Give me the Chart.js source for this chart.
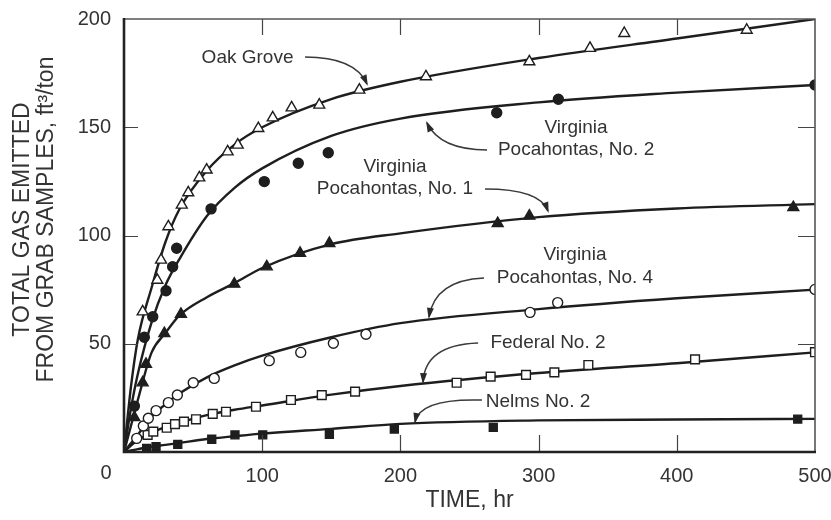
<!DOCTYPE html>
<html>
<head>
<meta charset="utf-8">
<script src="https://cdn.jsdelivr.net/npm/chart.js@4/dist/chart.umd.min.js"></script>
<style>
  html, body { margin: 0; padding: 0; background: #fff; }
</style>
</head>
<body>
<canvas id="chart" width="831" height="520"></canvas>
<script>
// measured samples (time in hr, gas in ft3/ton)
const oakTime  = [13.5, 24.1, 26.8, 32.1, 41.8, 46.5, 54.5, 59.8, 75.0, 82.3, 97.2, 107.6, 121.3, 141.3, 170.3, 218.5, 293.3, 337.2, 362.0, 450.6];
const oakGas   = [64.8, 79.4, 88.7, 104.1, 114.1, 119.8, 126.7, 130.3, 138.7, 141.8, 149.5, 154.4, 159.0, 160.3, 167.2, 173.4, 180.3, 186.5, 193.4, 194.9];
const vp2Time  = [7.5, 14.7, 20.8, 30.4, 35.2, 38.1, 63.0, 101.5, 126.1, 147.8, 269.7, 314.3, 500];
const vp2Gas   = [21.2, 53.0, 62.5, 74.5, 85.6, 94.1, 112.3, 124.9, 133.4, 138.2, 156.7, 162.9, 169.5];
const vp1Time  = [7.5, 13.5, 15.9, 29.2, 41.2, 79.8, 103.3, 127.4, 148.6, 270.4, 293.3, 484.3];
const vp1Gas   = [16.0, 32.0, 40.6, 54.8, 63.7, 77.6, 85.6, 91.8, 96.4, 105.6, 109.0, 113.0];
const vp4Time  = [9.2, 14.0, 17.6, 23.2, 32.1, 38.6, 50.1, 65.3, 105.1, 127.9, 151.5, 175.1, 293.8, 313.8, 500];
const vp4Gas   = [6.3, 12.0, 15.6, 19.1, 22.8, 26.3, 32.0, 34.0, 42.2, 46.0, 50.2, 54.4, 64.5, 69.0, 75.1];
const fedTime  = [17.1, 21.2, 30.9, 36.9, 43.4, 52.1, 64.2, 73.8, 95.5, 120.8, 143.1, 167.2, 240.7, 265.3, 290.9, 311.4, 336.0, 413.2, 500];
const fedGas   = [7.9, 9.4, 11.2, 12.9, 14.0, 15.1, 17.6, 18.6, 20.9, 24.0, 26.3, 27.9, 32.0, 34.8, 35.6, 36.8, 40.2, 42.8, 46.1];
const nelTime  = [16.4, 23.2, 38.9, 63.5, 80.3, 100.4, 148.6, 195.6, 267.2, 487.5];
const nelGas   = [1.7, 2.5, 3.5, 5.9, 7.9, 7.9, 8.2, 10.6, 11.4, 15.2];

// fitted curves
const curveTime = [0, 5, 10, 20, 30, 40, 60, 80, 100, 150, 200, 300, 400, 500];
const oakCurve  = [0, 30, 52, 76, 97, 112, 130, 142, 150, 163, 171, 182, 191, 200];
const vp2Curve  = [0, 20, 36, 60, 77, 89, 109, 122, 131, 146, 154, 161.5, 166, 169.5];
const vp1Curve  = [0, 12, 24, 46, 55, 63, 71.5, 78, 85, 96, 101, 108.5, 112.5, 114.5];
const vp4Curve  = [0, 4, 8, 16.5, 22, 27, 34.5, 40, 44.5, 53, 59.5, 66, 71, 75];
const fedCurve  = [0, 3, 5.5, 9, 11.5, 13.5, 17, 19.5, 21.5, 26.5, 30.5, 36.5, 41, 46];
const nelCurve  = [0, 0.7, 1.3, 2.5, 3.3, 4.2, 6, 7.3, 8.5, 10.7, 13, 14.6, 15, 15.3];

const xTicks = [0, 100, 200, 300, 400, 500];
const yTicks = [0, 50, 100, 150, 200];

const INK = '#1e1e1e';
const TEXT = '#333';
const FONT = "'Liberation Sans', Arial, sans-serif";

const pts = (xs, ys) => xs.map((v, i) => ({ x: v, y: ys[i] }));

function curve(ys) {
    return {
        data: pts(curveTime, ys),
        showLine: true,
        borderColor: INK,
        borderWidth: 2.4,
        pointRadius: 0,
        cubicInterpolationMode: 'monotone',
        order: 2
    };
}

function marks(xs, ys, style, filled, radius) {
    return {
        data: pts(xs, ys),
        showLine: false,
        pointStyle: style,
        pointRadius: radius,
        pointBorderWidth: 1.4,
        pointBorderColor: INK,
        pointBackgroundColor: filled ? INK : '#fff',
        order: 1
    };
}

// label text and arrows, placed in data units
const notes = [
    { lines: ['Oak Grove'], at: [89.4, 182.0], arrow: [[131.0, 182.4], [167.1, 182.4], [175.8, 170.0]] },
    { lines: ['Virginia', 'Pocahontas, No. 2'], at: [327.1, 149.7], gap: 10.2, arrow: [[262.7, 139.5], [228.7, 139.5], [219.2, 152.0]] },
    { lines: ['Virginia', 'Pocahontas, No. 1'], at: [196.1, 131.6], gap: 10.1, arrow: [[261.2, 121.5], [301.0, 121.5], [306.8, 111.3]] },
    { lines: ['Virginia', 'Pocahontas, No. 4'], at: [326.3, 91.0], gap: 10.6, arrow: [[260.5, 80.4], [225.0, 79.4], [220.7, 62.4]] },
    { lines: ['Federal No. 2'], at: [306.8, 50.3], arrow: [[256.2, 50.3], [217.8, 49.4], [216.4, 32.3]] },
    { lines: ['Nelms No. 2'], at: [299.6, 23.1], arrow: [[259.0, 24.0], [214.2, 24.9], [210.6, 13.9]] }
];

const decor = {
    id: 'decor',
    afterDatasetsDraw(chart) {
        const { ctx, chartArea: a, scales: { x, y } } = chart;
        ctx.save();

        // inward tick marks on all four sides
        ctx.strokeStyle = '#444';
        ctx.lineWidth = 1.2;
        ctx.beginPath();
        xTicks.slice(1, -1).forEach(v => {
            const px = Math.round(x.getPixelForValue(v)) + 0.5;
            ctx.moveTo(px, a.top); ctx.lineTo(px, a.top + 16);
            ctx.moveTo(px, a.bottom); ctx.lineTo(px, a.bottom - 17);
        });
        yTicks.slice(1, -1).forEach(v => {
            const py = Math.round(y.getPixelForValue(v)) + 0.5;
            ctx.moveTo(a.left, py); ctx.lineTo(a.left + 14, py);
            ctx.moveTo(a.right, py); ctx.lineTo(a.right - 17, py);
        });
        ctx.stroke();

        // frame
        ctx.strokeStyle = '#555';
        ctx.lineWidth = 1.6;
        ctx.beginPath();
        ctx.moveTo(a.left, a.top); ctx.lineTo(a.right, a.top); ctx.lineTo(a.right, a.bottom);
        ctx.stroke();
        ctx.strokeStyle = '#222';
        ctx.lineWidth = 2.6;
        ctx.beginPath();
        ctx.moveTo(a.left, a.top - 1); ctx.lineTo(a.left, a.bottom); ctx.lineTo(a.right + 1, a.bottom);
        ctx.stroke();

        // notes with curved arrows
        ctx.fillStyle = TEXT;
        ctx.font = '19px ' + FONT;
        ctx.textAlign = 'center';
        ctx.textBaseline = 'middle';
        notes.forEach(n => {
            const cx = x.getPixelForValue(n.at[0]);
            const cy = y.getPixelForValue(n.at[1]);
            const step = n.gap ? y.getPixelForValue(n.at[1] - n.gap) - cy : 0;
            n.lines.forEach((t, i) => ctx.fillText(t, cx, cy + i * step));

            const p = n.arrow.map(q => [x.getPixelForValue(q[0]), y.getPixelForValue(q[1])]);
            ctx.strokeStyle = '#3a3a3a';
            ctx.lineWidth = 1.5;
            ctx.beginPath();
            ctx.moveTo(p[0][0], p[0][1]);
            ctx.quadraticCurveTo(p[1][0], p[1][1], p[2][0], p[2][1]);
            ctx.stroke();
            const ang = Math.atan2(p[2][1] - p[1][1], p[2][0] - p[1][0]);
            ctx.beginPath();
            ctx.moveTo(p[2][0] + Math.cos(ang) * 2, p[2][1] + Math.sin(ang) * 2);
            ctx.lineTo(p[2][0] - Math.cos(ang) * 9 - Math.sin(ang) * 3.5, p[2][1] - Math.sin(ang) * 9 + Math.cos(ang) * 3.5);
            ctx.lineTo(p[2][0] - Math.cos(ang) * 9 + Math.sin(ang) * 3.5, p[2][1] - Math.sin(ang) * 9 - Math.cos(ang) * 3.5);
            ctx.closePath();
            ctx.fillStyle = '#2a2a2a';
            ctx.fill();
            ctx.fillStyle = TEXT;
        });

        // shared origin label
        ctx.font = '20px ' + FONT;
        ctx.fillText('0', a.left - 18, a.bottom + 21);

        // y axis title, two lines
        ctx.font = '23px ' + FONT;
        ctx.translate(a.left - 101, (a.top + a.bottom) / 2 - 16);
        ctx.rotate(-Math.PI / 2);
        ctx.fillText('TOTAL GAS EMITTED', 0, 0);
        ctx.fillText('FROM GRAB SAMPLES, ft\u00b3/ton', 0, 24);
        ctx.restore();
    }
};

new Chart(document.getElementById('chart'), {
    type: 'scatter',
    data: {
        datasets: [
            marks(oakTime, oakGas, 'triangle', false, 6.3),
            marks(vp2Time, vp2Gas, 'circle', true, 5),
            marks(vp1Time, vp1Gas, 'triangle', true, 6.3),
            marks(vp4Time, vp4Gas, 'circle', false, 5),
            marks(fedTime, fedGas, 'rect', false, 6.2),
            marks(nelTime, nelGas, 'rect', true, 5.6),
            curve(oakCurve),
            curve(vp2Curve),
            curve(vp1Curve),
            curve(vp4Curve),
            curve(fedCurve),
            curve(nelCurve)
        ]
    },
    options: {
        responsive: false,
        animation: false,
        layout: { padding: { top: 19, right: 16, left: 0, bottom: 0 } },
        plugins: {
            legend: { display: false },
            tooltip: { enabled: false }
        },
        scales: {
            x: {
                type: 'linear',
                min: 0,
                max: 500,
                grid: { display: false, drawTicks: false },
                border: { display: false },
                ticks: {
                    stepSize: 100,
                    padding: 12,
                    color: TEXT,
                    font: { family: FONT, size: 20 },
                    callback: v => v === 0 ? '' : v
                },
                title: {
                    display: true,
                    text: 'TIME, hr',
                    color: TEXT,
                    font: { family: FONT, size: 23 },
                    padding: { top: 0, bottom: 6 }
                },
                afterFit: s => {
                    s.height = 68;
                    s.paddingLeft = 0;
                    s.paddingRight = 0;
                }
            },
            y: {
                min: 0,
                max: 200,
                grid: { display: false, drawTicks: false },
                border: { display: false },
                ticks: {
                    stepSize: 50,
                    padding: 13,
                    color: TEXT,
                    font: { family: FONT, size: 20 },
                    callback: v => v === 0 ? '' : v
                },
                afterFit: s => {
                    s.width = 124;
                    s.paddingTop = 0;
                    s.paddingBottom = 0;
                }
            }
        }
    },
    plugins: [decor]
});
</script>
</body>
</html>
